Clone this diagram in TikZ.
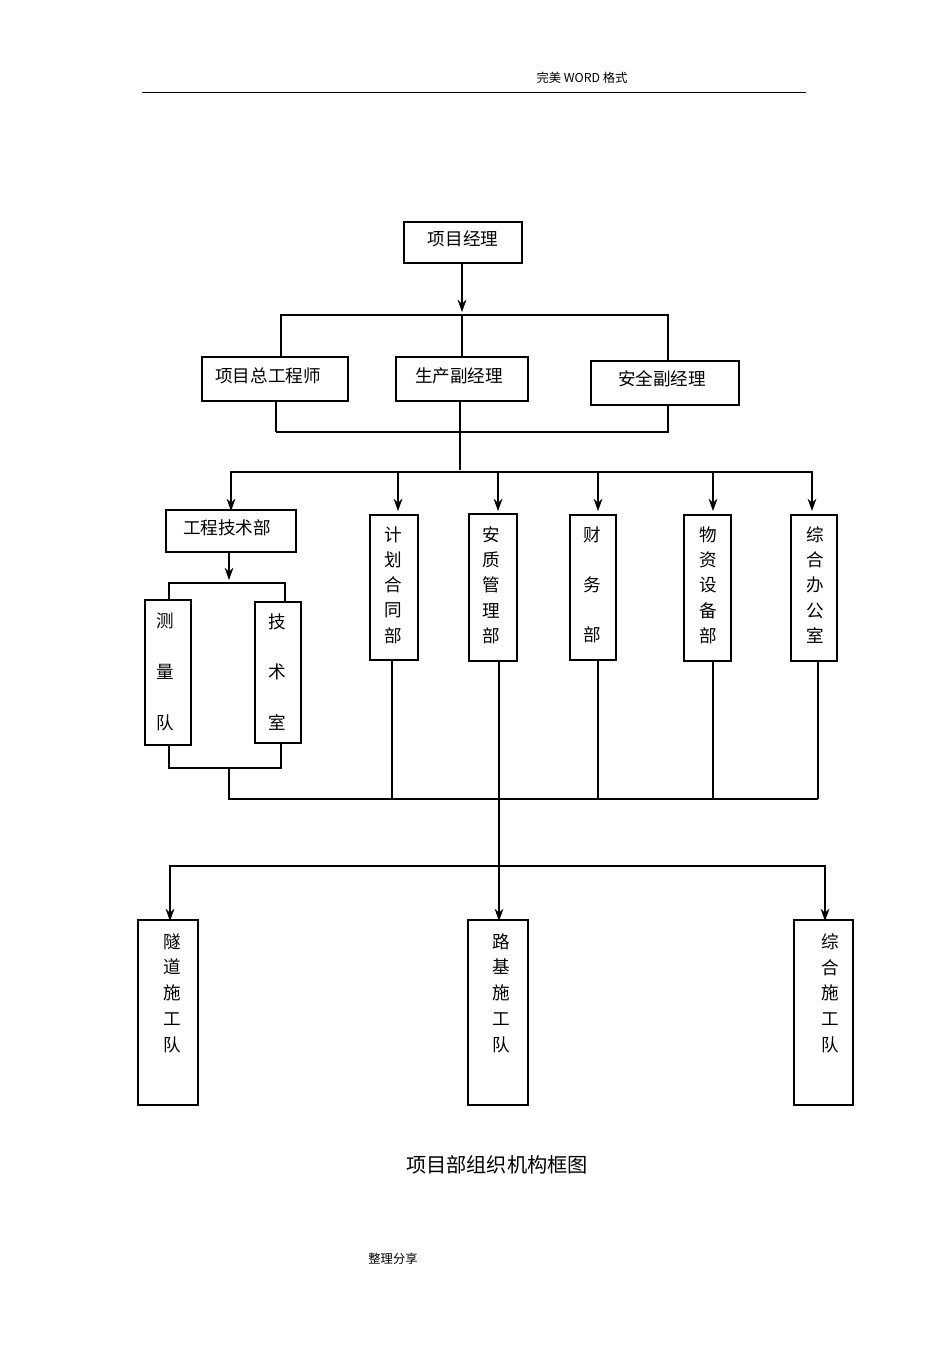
\documentclass[tikz,border=0pt]{standalone}
\usepackage{fontspec}
\newfontfamily\cjk{Noto Sans CJK SC}
\usetikzlibrary{arrows.meta}
\begin{document}
\begin{tikzpicture}[x=0.02cm,y=-0.02cm,
  box/.style={draw,line width=0.7pt},
  ln/.style={line width=0.6pt},
  ar/.style={ln,-{Stealth[length=7pt,width=5pt]}},
  t/.style={font=\cjk\fontsize{10}{12}\selectfont,inner sep=0},
  vt/.style={font=\cjk\fontsize{10}{#1}\selectfont,inner sep=0,align=center,anchor=north}]
\path[fill=white] (0,0) rectangle (950,1345);
% header
\node[t,font=\cjk\fontsize{7}{8}\selectfont] (hd) at (582,78) {完美 WORD 格式};
\draw[line width=0.5pt] (142,92) -- (806,92);
% top
\draw[box] (404,222) rectangle (522,263); \node[t] (pm) at (463,239) {项目经理};
\draw[ar] (462,263) -- (462,312);
\draw[ln] (281,357) -- (281,315) -- (668,315) -- (668,361); \draw[ln] (462,315) -- (462,357);
\draw[box] (202,357) rectangle (348,401); \node[t] (a1) at (268,376) {项目总工程师};
\draw[box] (396,357) rectangle (528,401); \node[t] (a2) at (459,376) {生产副经理};
\draw[box] (591,361) rectangle (739,405); \node[t] (a3) at (662,379) {安全副经理};
\draw[line width=1.2pt] (276,401) -- (276,432);
\draw[ln] (276,432) -- (668,432) -- (668,405); \draw[ln] (460,401) -- (460,470);
\draw[ln] (231,508) -- (231,472) -- (812,472) -- (812,508);
\foreach \x in {231,398,498,598,713,812} \draw[ar] (\x,472) -- (\x,511);
% departments
\draw[box,line width=1.1pt] (166,510) rectangle (296,552); \node[t] (gj) at (227,528) {工程技术部};
\draw[ar] (229,552) -- (229,580);
\draw[ln] (169,600) -- (169,583) -- (285,583) -- (285,602);
\draw[box] (145,600) rectangle (191,745); \node[vt=28.9pt] (cl) at (165,613) {测\\量\\队};
\draw[box] (255,602) rectangle (301,743); \node[vt=28.9pt] (js) at (277,613) {技\\术\\室};
\draw[ln] (169,745) -- (169,768) -- (281,768) -- (281,743);
\draw[ln] (229,768) -- (229,799) -- (818,799);
\draw[box] (370,515) rectangle (418,660); \node[vt=14.4pt] (d1) at (393,526) {计\\划\\合\\同\\部};
\draw[box,line width=1.1pt] (469,514) rectangle (517,661); \node[vt=14.4pt] (d2) at (491,526) {安\\质\\管\\理\\部};
\draw[box] (570,515) rectangle (616,660); \node[vt=28.6pt] (d3) at (592,526) {财\\务\\部};
\draw[box] (684,515) rectangle (731,661); \node[vt=14.4pt] (d4) at (708,526) {物\\资\\设\\备\\部};
\draw[box] (791,515) rectangle (837,661); \node[vt=14.4pt] (d5) at (815,526) {综\\合\\办\\公\\室};
\draw[ln] (392,660) -- (392,799); \draw[ln] (598,660) -- (598,799);
\draw[ln] (713,661) -- (713,799); \draw[ln] (818,661) -- (818,799);
\draw[line width=1.1pt] (499,661) -- (499,799);
\draw[ln] (499,799) -- (499,866);
\draw[ln] (170,918) -- (170,866) -- (825,866) -- (825,918);
\foreach \x in {170,499,825} \draw[ar] (\x,866) -- (\x,921);
\draw[box] (138,920) rectangle (198,1105); \node[vt=14.7pt] (b1) at (172,933) {隧\\道\\施\\工\\队};
\draw[box] (468,920) rectangle (528,1105); \node[vt=14.7pt] (b2) at (501,933) {路\\基\\施\\工\\队};
\draw[box] (794,920) rectangle (853,1105); \node[vt=14.7pt] (b3) at (830,933) {综\\合\\施\\工\\队};
\node[t,font=\cjk\fontsize{11.5}{13}\selectfont] (cap) at (497,1165) {项目部组织机构框图};
\node[t,font=\cjk\fontsize{7}{8}\selectfont] (ft) at (393,1259) {整理分享};
\end{tikzpicture}
\end{document}
